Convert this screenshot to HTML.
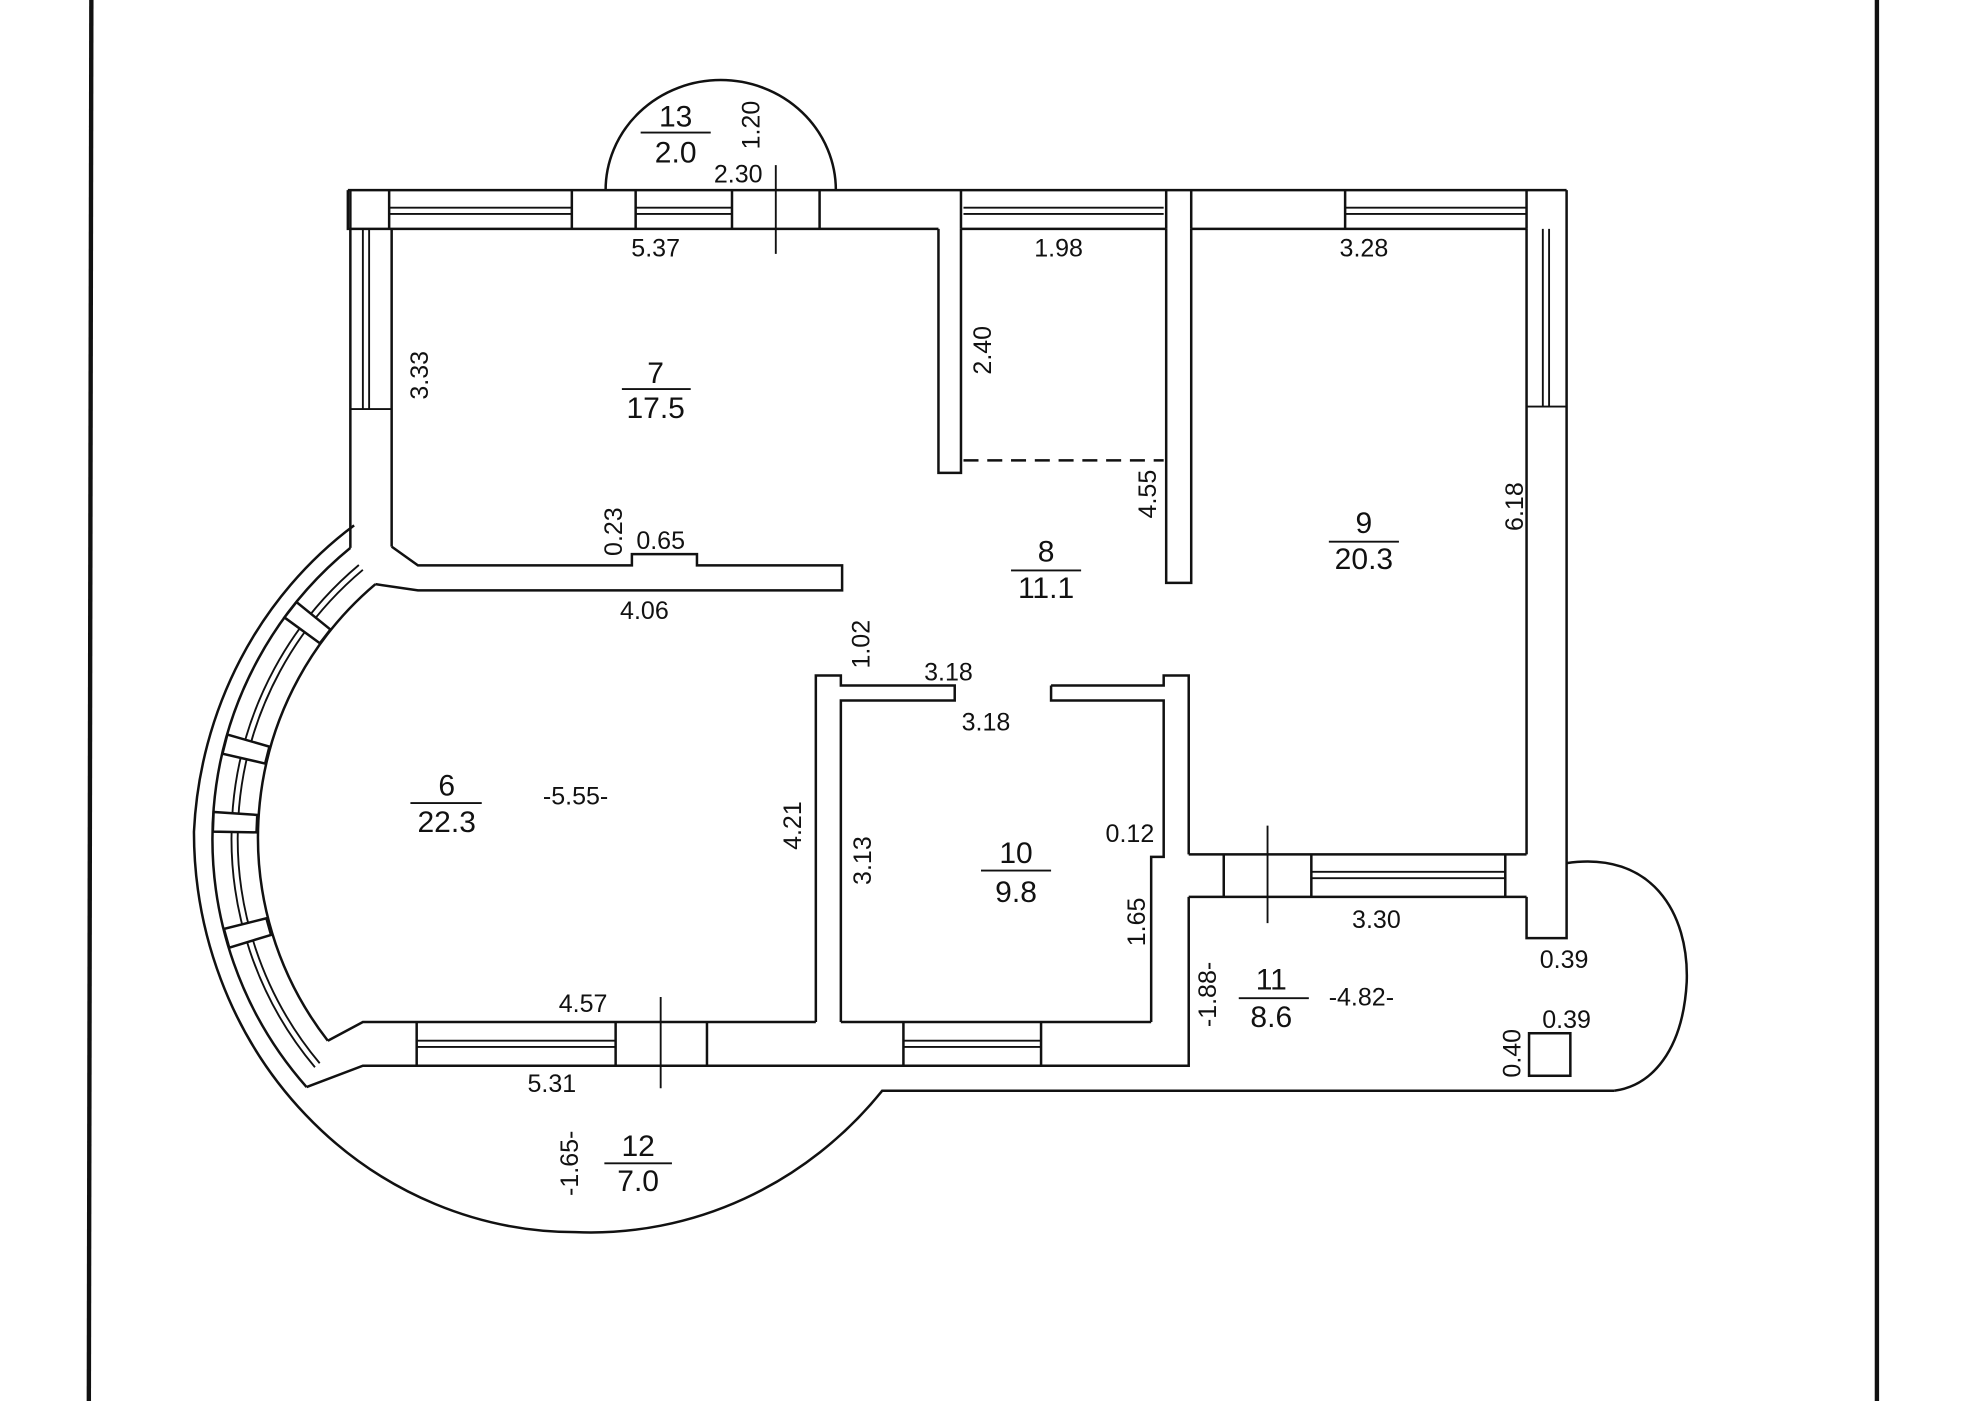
<!DOCTYPE html>
<html><head><meta charset="utf-8"><style>
html,body{margin:0;padding:0;background:#fff;}
svg{display:block;}
text{font-family:"Liberation Sans",sans-serif;fill:#111;}
.d{font-size:20px;}
.r{font-size:24px;}
</style></head><body>
<svg width="1962" height="1401" viewBox="0 0 1568 1120" preserveAspectRatio="none" xmlns="http://www.w3.org/2000/svg">
<g stroke="#111" fill="none" stroke-width="3.5">
<line x1="73" y1="0" x2="71" y2="1120"/>
<line x1="1500" y1="0" x2="1500" y2="1120"/>
</g>
<g stroke="#111" fill="none" stroke-width="2">
<path d="M484 152 A92 88 0 0 1 668 152"/>
<path d="M283 420 A305 320 0 0 0 155 665 A305 320 0 0 0 460 985 A305 320 0 0 0 705 872 H1290"/>
<path d="M1252 690 C1320 680 1350 730 1348 785 C1345 840 1320 868 1290 872"/>
<line x1="278" y1="152" x2="1252" y2="152"/>
<path d="M278 152 V183 H313 M313 183 H750 M768 183 H932 M952 183 H1220"/>
<path d="M311 152 V183 M457 152 V183 M508 152 V183 M585 152 V183 M655 152 V183 M768 152 V183 M932 152 V183 M952 152 V183 M1075 152 V183 M1220 152 V183"/>
<path d="M311 166 H457 M311 171 H457 M508 166 H585 M508 171 H585 M770 166 H930 M770 171 H930 M1075 166 H1220 M1075 171 H1220" stroke-width="1.5"/>
<path d="M280 152 V438 M313 183 V437"/>
<path d="M290 183 V327 M295 183 V327 M280 327 H313" stroke-width="1.5"/>
<path d="M750 183 V378 H768 V183"/>
<path d="M932 183 V466 H952 V183"/>
<line x1="770" y1="368" x2="930" y2="368" stroke-dasharray="12,7"/>
<path d="M1252 152 V750 H1220 V717 M1220 183 V683"/>
<path d="M1233 183 V325 M1238 183 V325 M1220 325 H1252" stroke-width="1.5"/>
<path d="M950 683 H1220 M950 717 H1220 M978 683 V717 M1048 683 V717 M1203 683 V717"/>
<path d="M1048 697 H1203 M1048 702 H1203" stroke-width="1.5"/>
<path d="M313 437 L334 452 H505 V443 H557 V452 H673 V472 H334 L300 467"/>
<path d="M280 438 A300 300 0 0 0 245 869"/>
<path d="M300 467 A265 265 0 0 0 262 832"/>
<path d="M290 455.5 A280 280 0 0 0 255.5 850 M286.8 451.7 A285 285 0 0 0 251.7 853.2" stroke-width="1.5"/>
<g fill="#fff">
<polygon points="255.6,514.2 227.3,493.6 236.9,481.3 264.1,503.3"/>
<polygon points="211.9,610.4 177.8,602.5 181.7,587.2 215.3,596.9"/>
<polygon points="205,665.4 170.1,664.8 170.7,649.1 205.6,651.5"/>
<polygon points="216.6,747.4 183.2,757.6 179,742.6 212.9,734.1"/>
</g>
<path d="M262 832 L290 817 H652 M672 817 H920 M245 869 L290 852 H950 V717"/>
<path d="M333 817 V852 M492 817 V852 M565 817 V852 M722 817 V852 M832 817 V852"/>
<path d="M333 832 H492 M333 837 H492 M722 832 H832 M722 837 H832" stroke-width="1.5"/>
<path d="M652 817 V540 H672 V548 H763 V560 H672 V817"/>
<path d="M840 548 H930 V540 H950 V683 M840 548 V560 H930 V685 H920 V817"/>
<path d="M620 132 V203 M1013 660 V738 M528 797 V870" stroke-width="1.5"/>
<path d="M512 106 H568 M497 311 H552 M808 456 H864 M1062 433 H1118 M328 642 H385 M784 696 H840 M990 798 H1046 M483 930 H537" stroke-width="1.5"/>
<rect x="1222" y="826" width="33" height="34"/>
</g>
<g text-anchor="middle">
<text class="r" x="540" y="101">13</text><text class="r" x="540" y="130">2.0</text>
<text class="d" x="590" y="146">2.30</text>
<text class="d" transform="translate(607,100) rotate(-90)">1.20</text>
<text class="d" x="524" y="205">5.37</text>
<text class="d" x="846" y="205">1.98</text>
<text class="d" x="1090" y="205">3.28</text>
<text class="d" transform="translate(342,300) rotate(-90)">3.33</text>
<text class="d" transform="translate(792,280) rotate(-90)">2.40</text>
<text class="r" x="524" y="306">7</text><text class="r" x="524" y="334">17.5</text>
<text class="d" transform="translate(497,425) rotate(-90)">0.23</text>
<text class="d" x="528" y="439">0.65</text>
<text class="d" x="515" y="495">4.06</text>
<text class="d" transform="translate(924,395) rotate(-90)">4.55</text>
<text class="r" x="836" y="449">8</text><text class="r" x="836" y="478">11.1</text>
<text class="r" x="1090" y="426">9</text><text class="r" x="1090" y="455">20.3</text>
<text class="d" transform="translate(1217,405) rotate(-90)">6.18</text>
<text class="d" transform="translate(695,515) rotate(-90)">1.02</text>
<text class="d" x="758" y="544">3.18</text>
<text class="d" x="788" y="584">3.18</text>
<text class="r" x="357" y="636">6</text><text class="r" x="357" y="665">22.3</text>
<text class="d" x="460" y="643">-5.55-</text>
<text class="d" transform="translate(640,660) rotate(-90)">4.21</text>
<text class="d" transform="translate(696,688) rotate(-90)">3.13</text>
<text class="r" x="812" y="690">10</text><text class="r" x="812" y="721">9.8</text>
<text class="d" x="903" y="673">0.12</text>
<text class="d" transform="translate(915,737) rotate(-90)">1.65</text>
<text class="d" x="1100" y="742">3.30</text>
<text class="d" x="1250" y="774">0.39</text>
<text class="d" transform="translate(972,795) rotate(-90)">-1.88-</text>
<text class="r" x="1016" y="791">11</text><text class="r" x="1016" y="821">8.6</text>
<text class="d" x="1088" y="804">-4.82-</text>
<text class="d" transform="translate(1215,842) rotate(-90)">0.40</text>
<text class="d" x="1252" y="822">0.39</text>
<text class="d" x="466" y="809">4.57</text>
<text class="d" x="441" y="873">5.31</text>
<text class="d" transform="translate(462,930) rotate(-90)">-1.65-</text>
<text class="r" x="510" y="924">12</text><text class="r" x="510" y="952">7.0</text>
</g>
</svg>
</body></html>
